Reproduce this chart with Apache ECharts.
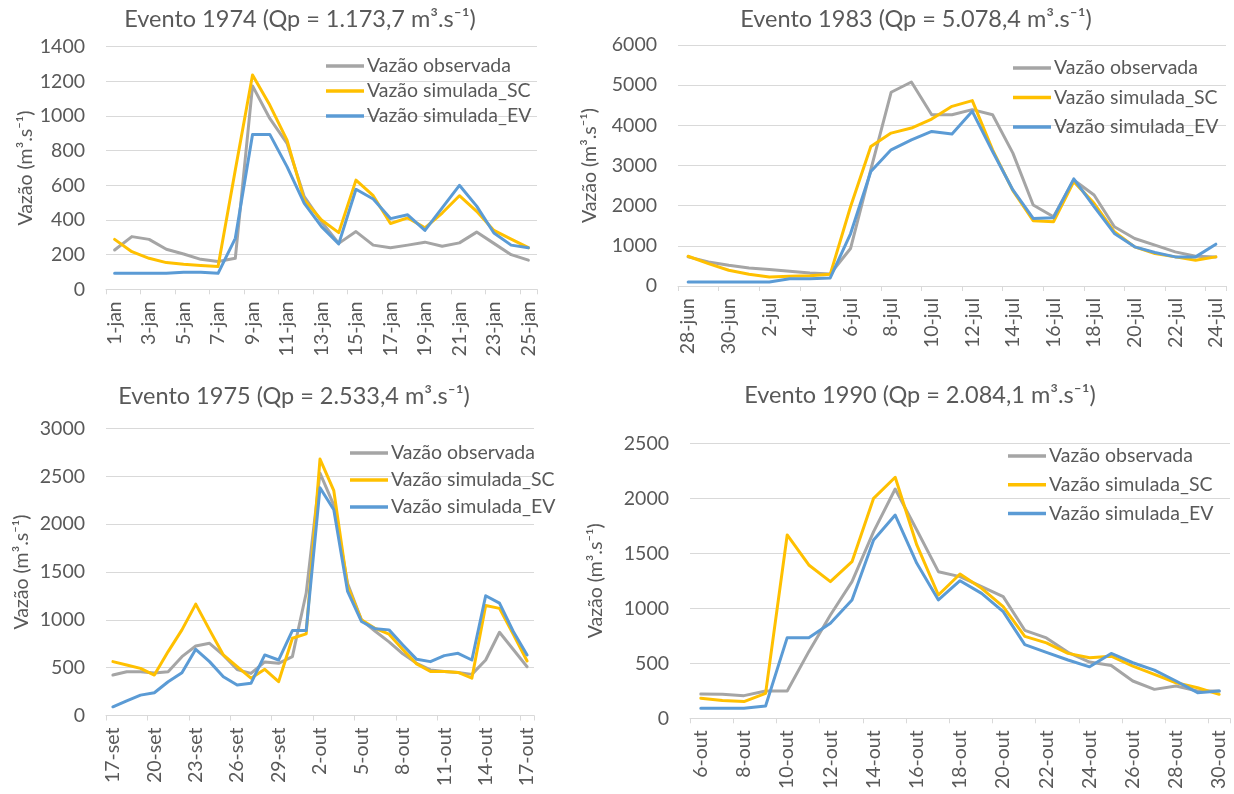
<!DOCTYPE html>
<html>
<head>
<meta charset="utf-8">
<script src="https://cdn.jsdelivr.net/npm/echarts@6/dist/echarts.min.js"></script>
<style>
  html, body { margin: 0; padding: 0; background: #ffffff; }
  #chart { width: 1234px; height: 794px; }
</style>
</head>
<body>
<div id="chart"></div>
<script>
// ---- Event 1974 ----
const dias1974 = ['1-jan','2-jan','3-jan','4-jan','5-jan','6-jan','7-jan','8-jan','9-jan','10-jan','11-jan','12-jan','13-jan',
  '14-jan','15-jan','16-jan','17-jan','18-jan','19-jan','20-jan','21-jan','22-jan','23-jan','24-jan','25-jan'];
const obs1974 = [227, 304, 288, 231, 204, 173, 160, 179, 1173.7, 986, 842, 535, 390, 265, 333, 255, 240, 255, 272, 248, 268, 330, 265, 200, 168];
const sc1974  = [288, 217, 179, 154, 144, 138, 131, 688, 1237, 1063, 861, 515, 400, 327, 630, 540, 380, 412, 355, 440, 540, 450, 340, 290, 240];
const ev1974  = [92, 92, 92, 92, 98, 98, 92, 294, 894, 894, 708, 496, 362, 262, 577, 521, 408, 430, 340, 470, 600, 480, 325, 255, 240];

// ---- Event 1983 ----
const dias1983 = ['28-jun','29-jun','30-jun','1-jul','2-jul','3-jul','4-jul','5-jul','6-jul','7-jul','8-jul','9-jul','10-jul','11-jul',
  '12-jul','13-jul','14-jul','15-jul','16-jul','17-jul','18-jul','19-jul','20-jul','21-jul','22-jul','23-jul','24-jul'];
const obs1983 = [725, 600, 516, 450, 408, 367, 325, 300, 933, 2900, 4823, 5078.4, 4265, 4265, 4390, 4265, 3307, 2016, 1724, 2640, 2266, 1474, 1183, 1016, 850, 741, 725];
const sc1983  = [741, 558, 391, 291, 225, 242, 258, 291, 1974, 3474, 3807, 3932, 4157, 4473, 4615, 3390, 2374, 1624, 1599, 2599, 2058, 1350, 975, 808, 725, 641, 725];
const ev1983  = [100, 100, 100, 100, 100, 183, 183, 200, 1300, 2849, 3390, 3640, 3849, 3782, 4349, 3349, 2391, 1683, 1700, 2666, 1974, 1308, 975, 833, 725, 725, 1041];

// ---- Event 1975 ----
const dias1975 = ['17-set','18-set','19-set','20-set','21-set','22-set','23-set','24-set','25-set','26-set','27-set','28-set','29-set','30-set',
  '1-out','2-out','3-out','4-out','5-out','6-out','7-out','8-out','9-out','10-out','11-out','12-out','13-out','14-out','15-out','16-out','17-out'];
const obs1975 = [423, 458, 458, 445, 458, 615, 727, 755, 630, 480, 440, 560, 545, 615, 1280, 2533.4, 2200, 1380, 1000, 880, 770, 645, 545, 476, 460, 450, 430, 580, 870, 690, 510];
const sc1975  = [563, 528, 493, 423, 668, 895, 1164, 895, 633, 510, 390, 483, 353, 808, 853, 2680, 2350, 1350, 1000, 910, 850, 690, 540, 460, 460, 450, 390, 1150, 1120, 850, 570];
const ev1975  = [91, 154, 213, 238, 353, 448, 692, 563, 406, 318, 336, 633, 580, 888, 888, 2380, 2150, 1297, 983, 906, 895, 738, 587, 563, 626, 650, 580, 1252, 1175, 878, 633];

// ---- Event 1990 ----
const dias1990 = ['6-out','7-out','8-out','9-out','10-out','11-out','12-out','13-out','14-out','15-out','16-out','17-out','18-out',
  '19-out','20-out','21-out','22-out','23-out','24-out','25-out','26-out','27-out','28-out','29-out','30-out'];
const obs1990 = [221, 218, 206, 248, 248, 606, 939, 1242, 1697, 2084.1, 1712, 1333, 1288, 1197, 1106, 800, 731, 600, 511, 480, 339, 263, 293, 248, 248];
const sc1990  = [182, 161, 152, 227, 1667, 1394, 1242, 1424, 2000, 2191, 1576, 1121, 1312, 1182, 1015, 745, 686, 590, 550, 565, 475, 400, 323, 278, 218];
const ev1990  = [91, 91, 91, 112, 733, 733, 864, 1076, 1621, 1848, 1409, 1076, 1251, 1136, 970, 670, 600, 530, 468, 590, 505, 438, 339, 233, 248];

const nomesSeries = ['Vazão observada', 'Vazão simulada_SC', 'Vazão simulada_EV'];
const cores = ['#A5A5A5', '#FFC000', '#5B9BD5'];
const nomeEixoY = 'Vazão (m³.s⁻¹)';

const FONTE = 'Lato, "Open Sans", sans-serif';
const COR_TEXTO = '#595959';
const COR_GRADE = '#D9D9D9';

// Layout of the four panels
const paineis = [
  { titulo: 'Evento 1974 (Qp = 1.173,7 m³.s⁻¹)', dias: dias1974, series: [obs1974, sc1974, ev1974],
    yMax: 1400, yPasso: 200, cada: 2,
    grid: { left: 106, top: 46.7, width: 431, height: 242.6 },
    tit: [300, 7], leg: [326, 56], legGap: 5, nomeGap: 70 },
  { titulo: 'Evento 1983 (Qp = 5.078,4 m³.s⁻¹)', dias: dias1983, series: [obs1983, sc1983, ev1983],
    yMax: 6000, yPasso: 1000, cada: 2,
    grid: { left: 678, top: 45, width: 548, height: 241 },
    tit: [916, 7], leg: [1013, 58], legGap: 9.5, nomeGap: 78 },
  { titulo: 'Evento 1975 (Qp = 2.533,4 m³.s⁻¹)', dias: dias1975, series: [obs1975, sc1975, ev1975],
    yMax: 3000, yPasso: 500, cada: 3,
    grid: { left: 106, top: 428.5, width: 428, height: 287 },
    tit: [294, 384], leg: [350, 443], legGap: 7, nomeGap: 74 },
  { titulo: 'Evento 1990 (Qp = 2.084,1 m³.s⁻¹)', dias: dias1990, series: [obs1990, sc1990, ev1990],
    yMax: 2500, yPasso: 500, cada: 2,
    grid: { left: 690, top: 443.3, width: 540, height: 275 },
    tit: [920, 383], leg: [1008, 446], legGap: 8.7, nomeGap: 84 }
];

const option = {
  animation: false,
  backgroundColor: '#ffffff',
  textStyle: { fontFamily: FONTE },
  title: [], legend: [], grid: [], xAxis: [], yAxis: [], series: []
};

paineis.forEach(function (p, k) {
  option.title.push({
    text: p.titulo, left: p.tit[0], top: p.tit[1], textAlign: 'center', padding: 0,
    textStyle: { fontFamily: FONTE, fontSize: 23.5, fontWeight: 'normal', color: COR_TEXTO }
  });
  option.legend.push({
    data: nomesSeries, orient: 'vertical', left: p.leg[0], top: p.leg[1], padding: 0,
    itemGap: p.legGap, itemWidth: 38, itemHeight: 3.5, icon: 'rect', selectedMode: false,
    textStyle: { fontFamily: FONTE, fontSize: 19.5, color: COR_TEXTO, padding: [0, 0, 0, -2] }
  });
  option.grid.push(Object.assign({ containLabel: false }, p.grid));
  option.xAxis.push({
    type: 'category', gridIndex: k, data: p.dias, boundaryGap: true,
    axisLine: { show: true, lineStyle: { color: COR_GRADE, width: 1 } },
    axisTick: { show: true, interval: p.cada - 1, length: 5, lineStyle: { color: COR_GRADE } },
    axisLabel: { interval: p.cada - 1, rotate: 90, margin: 12, color: COR_TEXTO, fontFamily: FONTE, fontSize: 19.5 },
    splitLine: { show: false }
  });
  option.yAxis.push({
    type: 'value', gridIndex: k, min: 0, max: p.yMax, interval: p.yPasso,
    name: nomeEixoY, nameLocation: 'middle', nameGap: p.nomeGap, nameRotate: 90,
    nameTextStyle: { color: COR_TEXTO, fontFamily: FONTE, fontSize: 19.5 },
    axisLine: { show: false }, axisTick: { show: false },
    axisLabel: {
      margin: 21, color: COR_TEXTO, fontFamily: FONTE, fontSize: 19.5,
      formatter: function (v) { return String(v); }
    },
    splitLine: { show: true, lineStyle: { color: COR_GRADE, width: 1 } }
  });
  p.series.forEach(function (valores, s) {
    option.series.push({
      type: 'line', name: nomesSeries[s], xAxisIndex: k, yAxisIndex: k,
      data: valores, showSymbol: false, symbol: 'none', z: 2 + s,
      itemStyle: { color: cores[s] },
      lineStyle: { color: cores[s], width: 3, cap: 'round', join: 'round' }
    });
  });
});

const chart = echarts.init(document.getElementById('chart'), null, { renderer: 'canvas' });
chart.setOption(option);
</script>
</body>
</html>
